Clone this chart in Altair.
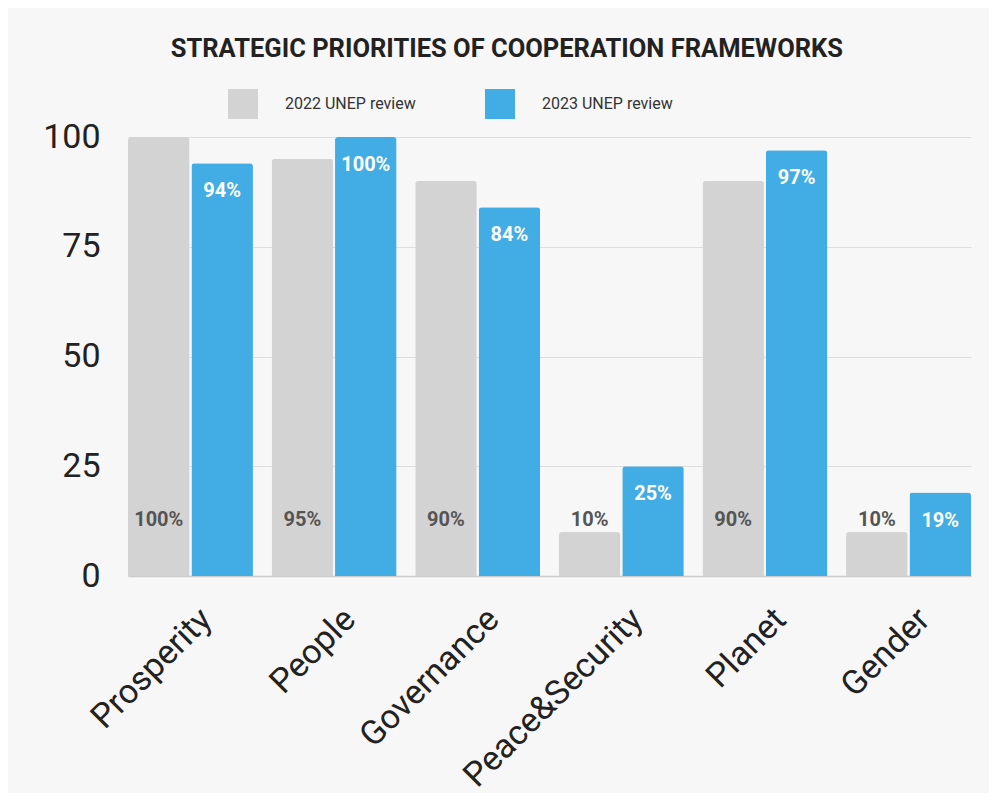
import altair as alt
import pandas as pd

categories = ["Prosperity", "People", "Governance", "Peace&Security", "Planet", "Gender"]
series = ["2022 UNEP review", "2023 UNEP review"]
values_2022 = [100, 95, 90, 10, 90, 10]
values_2023 = [94, 100, 84, 25, 97, 19]
y_ticks = [0, 25, 50, 75, 100]
colors = ["#d3d3d3", "#42ace4"]

rows = []
for c, a, b in zip(categories, values_2022, values_2023):
    rows.append({"category": c, "series": series[0], "value": a, "label": f"{a}%"})
    rows.append({"category": c, "series": series[1], "value": b, "label": f"{b}%"})
df = pd.DataFrame(rows)

FONT = "Roboto"

x_enc = alt.X(
    "category:N",
    sort=categories,
    scale=alt.Scale(paddingInner=0.13, paddingOuter=0),
    axis=alt.Axis(
        title=None,
        labelAngle=-45,
        labelAlign="right",
        labelBaseline="middle",
        labelFontSize=34,
        labelFont=FONT,
        labelColor="#222222",
        labelPadding=38,
        labelOffset=16,
        labelLimit=0,
        ticks=False,
        domainColor="#cccccc",
        domainWidth=1.5,
        grid=False,
    ),
)
xoff = alt.XOffset("series:N", sort=series, scale=alt.Scale(paddingInner=0.03))
y_enc = alt.Y(
    "value:Q",
    scale=alt.Scale(domain=[0, 100]),
    axis=alt.Axis(
        title=None,
        values=y_ticks,
        labelFontSize=34,
        labelFont=FONT,
        labelColor="#222222",
        labelPadding=28,
        ticks=False,
        domain=False,
        gridColor="#dddddd",
        gridWidth=1,
    ),
)

bars = alt.Chart(df).mark_bar(cornerRadiusTopLeft=3, cornerRadiusTopRight=3).encode(
    x=x_enc,
    xOffset=xoff,
    y=y_enc,
    color=alt.Color(
        "series:N",
        scale=alt.Scale(domain=series, range=colors),
        legend=alt.Legend(
            title=None,
            orient="none",
            legendX=100,
            legendY=-48,
            direction="horizontal",
            symbolType="square",
            symbolSize=900,
            symbolStrokeWidth=0,
            symbolOpacity=1,
            labelFontSize=16,
            labelFont=FONT,
            labelColor="#333333",
            labelOffset=27,
            columnPadding=69,
            padding=0,
        ),
    ),
)

labels_2022 = alt.Chart(df).transform_filter(
    alt.datum.series == series[0]
).mark_text(
    font=FONT, fontSize=20, fontWeight="bold", color="#555555", baseline="middle", dy=-56
).encode(
    x=alt.X("category:N", sort=categories),
    xOffset=alt.XOffset("series:N", sort=series),
    y=alt.datum(0),
    text="label:N",
)

labels_2023 = alt.Chart(df).transform_filter(
    alt.datum.series == series[1]
).mark_text(
    font=FONT, fontSize=20, fontWeight="bold", color="#ffffff", baseline="middle", dy=28
).encode(
    x=alt.X("category:N", sort=categories),
    xOffset=alt.XOffset("series:N", sort=series),
    y="value:Q",
    text="label:N",
)

chart = alt.layer(bars, labels_2022, labels_2023).properties(
    width=843,
    height=439,
    autosize=alt.AutoSizeParams(type="none"),
    padding={"left": 120, "top": 129, "right": 18, "bottom": 217},
    background="#f7f7f7",
    title=alt.Title(
        "STRATEGIC PRIORITIES OF COOPERATION FRAMEWORKS",
        font=FONT,
        fontSize=25.5,
        fontWeight="bold",
        color="#222222",
        anchor="middle",
        frame="bounds",
        offset=27,
    ),
).configure_view(stroke=None)

chart.save("out.html", embed_options={"renderer": "svg", "actions": False})
